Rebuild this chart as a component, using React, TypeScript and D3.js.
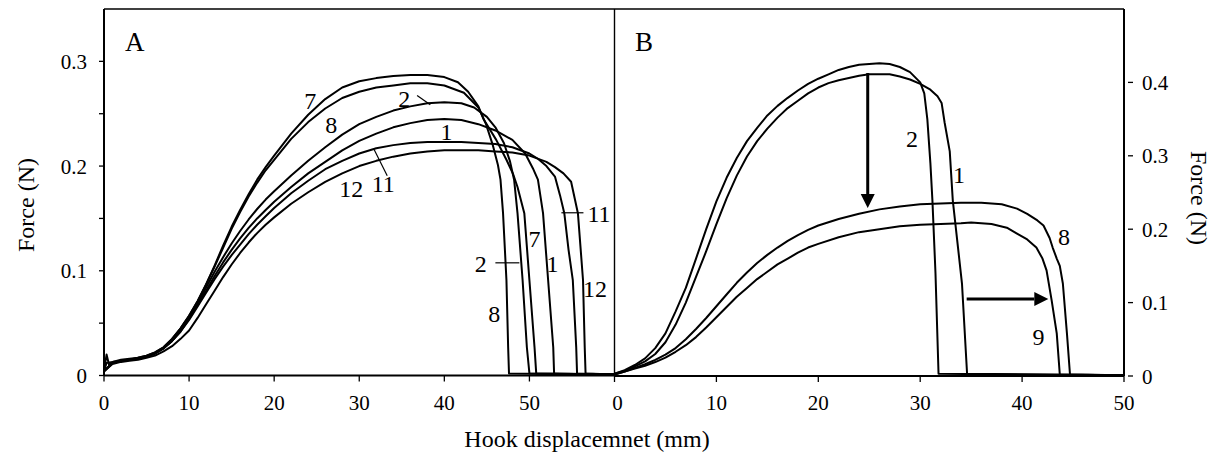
import React from "react";
import * as d3 from "d3";

type Pt = [number, number];

// ---------- Panel A data (Hook displacement mm, Force N) ----------
const a7: Pt[] = [[0,0.004],[0.3,0.012],[1,0.013],[2,0.015],[3,0.016],[4,0.017],[5,0.019],[6,0.022],[7,0.027],[8,0.035],[9,0.045],[10,0.057],[11,0.071],[12,0.087],[13,0.105],[14,0.124],[15,0.142],[16,0.158],[17,0.173],[18,0.187],[19,0.199],[20,0.21],[22,0.231],[24,0.249],[26,0.264],[28,0.275],[30,0.281],[32,0.284],[34,0.286],[36,0.287],[38,0.287],[40,0.285],[41.6,0.28],[42.8,0.271],[44,0.257],[44.6,0.245],[46.1,0.225],[47.3,0.206],[48.1,0.192],[48.6,0.18],[49.4,0.155],[50,0.091],[50.6,0.027],[50.8,0.002],[60,0.001]];
const a8: Pt[] = [[0,0.004],[0.3,0.02],[0.6,0.01],[1,0.013],[2,0.014],[3,0.015],[4,0.017],[5,0.019],[6,0.022],[7,0.027],[8,0.035],[9,0.045],[10,0.057],[11,0.071],[12,0.087],[13,0.104],[14,0.122],[15,0.14],[16,0.156],[17,0.171],[18,0.184],[19,0.196],[20,0.206],[22,0.226],[24,0.242],[26,0.255],[28,0.265],[30,0.271],[32,0.275],[34,0.277],[36,0.279],[38,0.279],[40,0.277],[42.3,0.27],[44,0.256],[44.9,0.24],[45.7,0.22],[46.3,0.201],[46.6,0.187],[46.9,0.155],[47.3,0.091],[47.5,0.027],[47.6,0.002],[60,0.001]];
const a2: Pt[] = [[0,0.004],[1,0.012],[2,0.014],[3,0.015],[4,0.016],[5,0.018],[6,0.021],[7,0.026],[8,0.033],[9,0.043],[10,0.055],[11,0.069],[12,0.084],[13,0.099],[14,0.113],[15,0.126],[16,0.138],[17,0.149],[18,0.159],[19,0.168],[20,0.176],[22,0.191],[24,0.205],[26,0.218],[28,0.23],[30,0.24],[32,0.247],[34,0.253],[36,0.257],[38,0.26],[40,0.261],[42,0.26],[43.5,0.256],[45,0.247],[46,0.237],[47,0.222],[47.7,0.205],[48.2,0.187],[48.6,0.155],[49.2,0.091],[49.7,0.027],[50,0.002],[60,0.001]];
const a1: Pt[] = [[0,0.004],[1,0.012],[2,0.014],[3,0.015],[4,0.016],[5,0.018],[6,0.021],[7,0.026],[8,0.033],[9,0.042],[10,0.054],[11,0.067],[12,0.081],[13,0.095],[14,0.108],[15,0.12],[16,0.131],[17,0.141],[18,0.15],[19,0.158],[20,0.166],[22,0.18],[24,0.193],[26,0.204],[28,0.215],[30,0.224],[32,0.231],[34,0.237],[36,0.241],[38,0.244],[40,0.245],[42,0.244],[44,0.24],[46,0.234],[48,0.225],[49.5,0.212],[50.4,0.198],[51,0.187],[51.6,0.155],[52.2,0.091],[52.8,0.027],[52.9,0.002],[60,0.001]];
const a11: Pt[] = [[0,0.004],[1,0.012],[2,0.014],[3,0.015],[4,0.016],[5,0.018],[6,0.021],[7,0.026],[8,0.033],[9,0.042],[10,0.053],[11,0.066],[12,0.079],[13,0.092],[14,0.104],[15,0.115],[16,0.125],[17,0.135],[18,0.144],[19,0.152],[20,0.16],[22,0.174],[24,0.186],[26,0.197],[28,0.205],[30,0.212],[32,0.217],[34,0.22],[36,0.222],[38,0.223],[40,0.223],[42,0.223],[44,0.222],[46,0.221],[48,0.218],[50,0.212],[51,0.207],[52,0.2],[53,0.19],[53.6,0.172],[54.1,0.155],[54.6,0.12],[55.1,0.091],[55.5,0.027],[55.6,0.002],[60,0.001]];
const a12: Pt[] = [[0,0.004],[1,0.011],[2,0.013],[3,0.014],[4,0.015],[5,0.017],[6,0.019],[7,0.023],[8,0.028],[9,0.035],[10,0.043],[11,0.055],[12,0.068],[13,0.081],[14,0.094],[15,0.106],[16,0.117],[17,0.127],[18,0.136],[19,0.144],[20,0.151],[22,0.164],[24,0.175],[26,0.185],[28,0.193],[30,0.2],[32,0.205],[34,0.209],[36,0.212],[38,0.214],[40,0.215],[42,0.215],[44,0.215],[46,0.214],[48,0.213],[50,0.21],[52,0.204],[53,0.199],[54,0.193],[54.9,0.185],[55.3,0.17],[55.7,0.155],[56.3,0.091],[56.5,0.027],[56.6,0.002],[60,0.001]];

// ---------- Panel B data ----------
const b2: Pt[] = [[0,0.003],[1,0.008],[2,0.015],[3,0.024],[4,0.038],[5,0.058],[6,0.088],[7,0.12],[8,0.16],[9,0.2],[10,0.238],[11,0.27],[12,0.297],[13,0.32],[14,0.338],[15,0.355],[16,0.368],[17,0.379],[18,0.389],[19,0.398],[20,0.405],[21,0.411],[22,0.417],[23,0.421],[24,0.424],[25,0.425],[26,0.426],[27,0.425],[28,0.421],[29,0.414],[30,0.4],[30.4,0.385],[30.7,0.35],[31,0.29],[31.2,0.239],[31.5,0.14],[31.8,0.003],[50,0.001]];
const b1: Pt[] = [[0,0.003],[1,0.007],[2,0.013],[3,0.02],[4,0.03],[5,0.046],[6,0.07],[7,0.1],[8,0.135],[9,0.17],[10,0.207],[11,0.242],[12,0.273],[13,0.299],[14,0.32],[15,0.337],[16,0.352],[17,0.365],[18,0.375],[19,0.385],[20,0.393],[21,0.399],[22,0.403],[23,0.406],[24,0.409],[25,0.411],[26,0.411],[27,0.411],[28,0.408],[29,0.404],[30,0.398],[31,0.39],[31.7,0.381],[32.1,0.372],[32.4,0.345],[32.9,0.306],[33.2,0.239],[34.1,0.126],[34.6,0.003],[50,0.001]];
const b8: Pt[] = [[0,0.002],[1,0.006],[2,0.011],[3,0.016],[4,0.022],[5,0.029],[6,0.038],[7,0.05],[8,0.064],[9,0.079],[10,0.095],[11,0.111],[12,0.127],[13,0.141],[14,0.154],[15,0.165],[16,0.175],[17,0.184],[18,0.192],[19,0.199],[20,0.205],[22,0.214],[24,0.221],[26,0.227],[28,0.231],[30,0.234],[32,0.235],[34,0.236],[36,0.236],[38,0.234],[39.5,0.228],[40.5,0.221],[41.5,0.212],[42.1,0.205],[42.7,0.188],[43,0.175],[43.4,0.16],[43.7,0.15],[44,0.126],[44.4,0.058],[44.7,0.002],[50,0.001]];
const b9: Pt[] = [[0,0.002],[1,0.006],[2,0.01],[3,0.014],[4,0.019],[5,0.025],[6,0.033],[7,0.042],[8,0.053],[9,0.066],[10,0.08],[11,0.094],[12,0.108],[13,0.12],[14,0.132],[15,0.142],[16,0.152],[17,0.16],[18,0.168],[19,0.175],[20,0.18],[22,0.189],[24,0.196],[26,0.2],[28,0.204],[30,0.206],[32,0.207],[34,0.208],[35,0.209],[37,0.207],[38.5,0.202],[39.5,0.194],[40.5,0.186],[41.4,0.175],[42,0.16],[42.4,0.144],[42.9,0.103],[43.4,0.058],[43.7,0.002],[50,0.001]];

const seriesA: Pt[][] = [a7, a8, a2, a1, a11, a12];
const seriesB: Pt[][] = [b2, b1, b8, b9];

// ---------- Ticks ----------
const xTicksA = [0, 10, 20, 30, 40, 50];
const yTicksA = [0, 0.1, 0.2, 0.3];
const yMinorA = [0.05, 0.15, 0.25];
const xTicksB = [0, 10, 20, 30, 40, 50];
const yTicksB = [0, 0.1, 0.2, 0.3, 0.4];

// ---------- Annotations (data coordinates) ----------
const labelsA: { t: string; x: number; y: number }[] = [
  { t: "7", x: 24.24, y: 0.2548 },
  { t: "8", x: 26.71, y: 0.2319 },
  { t: "2", x: 35.29, y: 0.2568 },
  { t: "1", x: 40.24, y: 0.2252 },
  { t: "12", x: 29.06, y: 0.1707 },
  { t: "11", x: 32.82, y: 0.1755 },
  { t: "2", x: 44.29, y: 0.099 },
  { t: "8", x: 45.88, y: 0.0512 },
  { t: "7", x: 50.59, y: 0.1229 },
  { t: "1", x: 52.71, y: 0.099 },
  { t: "11", x: 58.18, y: 0.1468 },
  { t: "12", x: 57.71, y: 0.0751 },
];
const leadersA: [number, number, number, number][] = [
  [36.8, 0.2673, 38.35, 0.2586],
  [31.76, 0.2156, 33.29, 0.1907],
  [46.0, 0.1076, 48.82, 0.1076],
  [53.76, 0.1554, 56.35, 0.1554],
];
const labelsB: { t: string; x: number; y: number }[] = [
  { t: "2", x: 29.19, y: 0.312 },
  { t: "1", x: 33.8, y: 0.263 },
  { t: "8", x: 44.12, y: 0.1785 },
  { t: "9", x: 41.61, y: 0.0422 },
];
const arrowsB: [number, number, number, number][] = [
  [24.85, 0.4128, 24.85, 0.2289],
  [34.56, 0.1049, 42.57, 0.1049],
];

const FONT = "Liberation Serif, Times New Roman, DejaVu Serif, serif";

export default function App() {
  const left = 104, mid = 614.5, right = 1124, top = 9, bottom = 375.5;
  const xA = d3.scaleLinear().domain([0, 60]).range([left, mid]);
  const yA = d3.scaleLinear().domain([0, 0.35]).range([bottom, top]);
  const xB = d3.scaleLinear().domain([0, 50]).range([mid, right]);
  const yB = d3.scaleLinear().domain([0, 0.5]).range([376, top]);

  const lineA = d3.line<Pt>().x((d) => xA(d[0])).y((d) => yA(d[1]));
  const lineB = d3.line<Pt>().x((d) => xB(d[0])).y((d) => yB(d[1]));

  const tickFs = 21;
  const ts = { fontFamily: FONT } as React.CSSProperties;
  const arrowHead = (x1: number, y1: number, x2: number, y2: number) => {
    const ang = Math.atan2(y2 - y1, x2 - x1);
    const L = 14, W = 7;
    const bx = x2 - L * Math.cos(ang), by = y2 - L * Math.sin(ang);
    const px = -Math.sin(ang) * W, py = Math.cos(ang) * W;
    return { pts: `${x2},${y2} ${bx + px},${by + py} ${bx - px},${by - py}`, bx, by };
  };

  return (
    <svg width={1214} height={459} style={{ position: "absolute", left: 0, top: 0, background: "#fff", fontFamily: FONT }}>
      <rect x={0} y={0} width={1214} height={459} fill="#fff" />
      {/* curves */}
      <g fill="none" stroke="#000" strokeWidth={2} strokeLinejoin="round">
        {seriesA.map((s, i) => (
          <path key={"a" + i} d={lineA(s) || ""} />
        ))}
        {seriesB.map((s, i) => (
          <path key={"b" + i} d={lineB(s) || ""} />
        ))}
      </g>

      {/* frame */}
      <line x1={left} y1={top} x2={right} y2={top} stroke="#000" strokeWidth={1.3} />
      <line x1={left} y1={top} x2={left} y2={bottom} stroke="#000" strokeWidth={2} />
      <line x1={mid} y1={top} x2={mid} y2={bottom} stroke="#000" strokeWidth={1.4} />
      <line x1={right} y1={top} x2={right} y2={376} stroke="#000" strokeWidth={2} />
      <line x1={left} y1={bottom} x2={mid} y2={bottom} stroke="#000" strokeWidth={2} />
      <line x1={mid} y1={376} x2={right} y2={376} stroke="#000" strokeWidth={2} />

      {/* Panel A axes */}
      {yTicksA.map((t) => (
        <g key={"ya" + t}>
          <line x1={left - 5} x2={left} y1={yA(t)} y2={yA(t)} stroke="#000" strokeWidth={1.3} />
          <text style={ts} x={87} y={yA(t) + 7.5} fontSize={tickFs} textAnchor="end">{t === 0 ? "0" : t.toFixed(1)}</text>
        </g>
      ))}
      {yMinorA.map((t) => (
        <line key={"yma" + t} x1={left - 5} x2={left} y1={yA(t)} y2={yA(t)} stroke="#000" strokeWidth={1.3} />
      ))}
      {xTicksA.map((t) => (
        <g key={"xa" + t}>
          <line x1={xA(t)} x2={xA(t)} y1={bottom} y2={bottom + 6} stroke="#000" strokeWidth={1.3} />
          <text style={ts} x={xA(t)} y={410} fontSize={tickFs} textAnchor="middle">{t}</text>
        </g>
      ))}

      {/* Panel B axes */}
      {xTicksB.map((t) => (
        <g key={"xb" + t}>
          <line x1={xB(t)} x2={xB(t)} y1={376} y2={382} stroke="#000" strokeWidth={1.3} />
          <text style={ts} x={xB(t) + (t === 0 ? 3 : 0)} y={410} fontSize={tickFs} textAnchor="middle">{t}</text>
        </g>
      ))}
      {yTicksB.map((t) => (
        <g key={"yb" + t}>
          <line x1={right + 4} x2={right + 9} y1={yB(t)} y2={yB(t)} stroke="#000" strokeWidth={1.3} />
          <text style={ts} x={1142} y={yB(t) + 7.5} fontSize={tickFs} textAnchor="start">{t === 0 ? "0" : t.toFixed(1)}</text>
        </g>
      ))}

      {/* panel letters */}
      <text style={ts} x={125} y={51} fontSize={27}>A</text>
      <text style={ts} x={635} y={51} fontSize={27}>B</text>

      {/* curve labels A */}
      {labelsA.map((l, i) => (
        <text style={ts} key={"la" + i} x={xA(l.x)} y={yA(l.y)} fontSize={24} textAnchor="middle">{l.t}</text>
      ))}
      {leadersA.map((l, i) => (
        <line key={"ld" + i} x1={xA(l[0])} y1={yA(l[1])} x2={xA(l[2])} y2={yA(l[3])} stroke="#000" strokeWidth={1.2} />
      ))}

      {/* curve labels B */}
      {labelsB.map((l, i) => (
        <text style={ts} key={"lb" + i} x={xB(l.x)} y={yB(l.y)} fontSize={24} textAnchor="middle">{l.t}</text>
      ))}
      {arrowsB.map((a, i) => {
        const x1 = xB(a[0]), y1 = yB(a[1]), x2 = xB(a[2]), y2 = yB(a[3]);
        const h = arrowHead(x1, y1, x2, y2);
        return (
          <g key={"ar" + i}>
            <line x1={x1} y1={y1} x2={h.bx} y2={h.by} stroke="#000" strokeWidth={3} />
            <polygon points={h.pts} fill="#000" />
          </g>
        );
      })}

      {/* axis titles */}
      <text style={ts} x={587} y={447} fontSize={24} textAnchor="middle">Hook displacemnet (mm)</text>
      <text style={ts} transform="translate(34,205) rotate(-90)" fontSize={24} textAnchor="middle">Force (N)</text>
      <text style={ts} transform="translate(1191,198) rotate(90)" fontSize={24} textAnchor="middle">Force (N)</text>
    </svg>
  );
}
